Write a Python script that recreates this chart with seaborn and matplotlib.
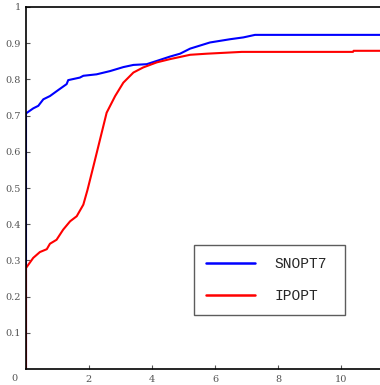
import matplotlib
matplotlib.use("Agg")
import matplotlib.pyplot as plt
import seaborn as sns
import pandas as pd

# -----------------------------
# Data (performance profile)
# -----------------------------
snopt_x = [0, 0, 0.23, 0.39, 0.55, 0.76, 1.03, 1.29, 1.34, 1.71, 1.82, 2.24, 2.67,
           3.09, 3.41, 3.83, 4.15, 4.57, 4.89, 5.21, 5.84, 6.48, 6.9, 7.27, 12]
snopt_y = [0, 0.706, 0.72, 0.727, 0.745, 0.754, 0.771, 0.787, 0.798, 0.805, 0.81, 0.814, 0.823,
           0.834, 0.84, 0.842, 0.851, 0.863, 0.871, 0.885, 0.902, 0.911, 0.916, 0.923, 0.923]

ipopt_x = [0, 0, 0.23, 0.44, 0.66, 0.76, 0.97, 1.18, 1.40, 1.61, 1.82, 1.95, 2.14, 2.35,
           2.56, 2.83, 3.09, 3.41, 3.72, 4.15, 4.57, 5.21, 5.74, 6.85, 10.38, 10.40, 12]
ipopt_y = [0, 0.279, 0.307, 0.323, 0.331, 0.346, 0.357, 0.385, 0.408, 0.422, 0.454, 0.494, 0.56, 0.634,
           0.708, 0.754, 0.791, 0.819, 0.833, 0.847, 0.856, 0.868, 0.871, 0.876, 0.876, 0.879, 0.879]

solvers = ["SNOPT7", "IPOPT"]
colors = ["blue", "red"]
x_ticks = [2, 4, 6, 8, 10]
y_ticks = [0.1, 0.2, 0.3, 0.4, 0.5, 0.6, 0.7, 0.8, 0.9, 1]

df = pd.concat([
    pd.DataFrame({"tau": snopt_x, "rho": snopt_y, "solver": solvers[0]}),
    pd.DataFrame({"tau": ipopt_x, "rho": ipopt_y, "solver": solvers[1]}),
])

# -----------------------------
# Plot
# -----------------------------
sns.set_style("white")
fig = plt.figure(figsize=(3.8, 3.85), dpi=100)
ax = fig.add_axes([26 / 380, 16 / 385, 374 / 380, 362 / 385])

sns.lineplot(data=df, x="tau", y="rho", hue="solver", hue_order=solvers,
             palette=colors, estimator=None, linewidth=1.5, ax=ax)

ax.set_xlim(0, 374 / 31.5)
ax.set_ylim(0, 1)
ax.set_xticks(x_ticks)
ax.set_yticks(y_ticks)
ax.set_yticklabels([f"{v:g}" for v in y_ticks])
ax.set_xlabel("")
ax.set_ylabel("")

for s in ["top", "bottom", "left"]:
    ax.spines[s].set_color("black")
    ax.spines[s].set_linewidth(1.2)
ax.spines["right"].set_visible(False)

ax.tick_params(axis="both", direction="in", length=3, width=0.8, colors="#555555",
               labelsize=7, left=True, bottom=True)
for lab in ax.get_xticklabels() + ax.get_yticklabels():
    lab.set_family("DejaVu Serif")
ax.tick_params(axis="x", pad=4)
ax.text(-0.03, -0.026, "0", transform=ax.transAxes, ha="center", va="center",
        fontsize=7, color="#555555", family="DejaVu Serif")

leg = ax.legend(loc="lower left", bbox_to_anchor=(0.449, 0.149, 0.404, 0.185),
                mode="expand", borderaxespad=0, frameon=True, fancybox=False,
                handlelength=3.4, handletextpad=1.3, labelspacing=1.25, borderpad=0.8,
                prop={"family": "Liberation Mono", "size": 10.5})
leg.get_frame().set_edgecolor("#333333")
leg.get_frame().set_linewidth(1.0)
for line in leg.get_lines():
    line.set_linewidth(1.8)

fig.savefig("out.png", dpi=100)
